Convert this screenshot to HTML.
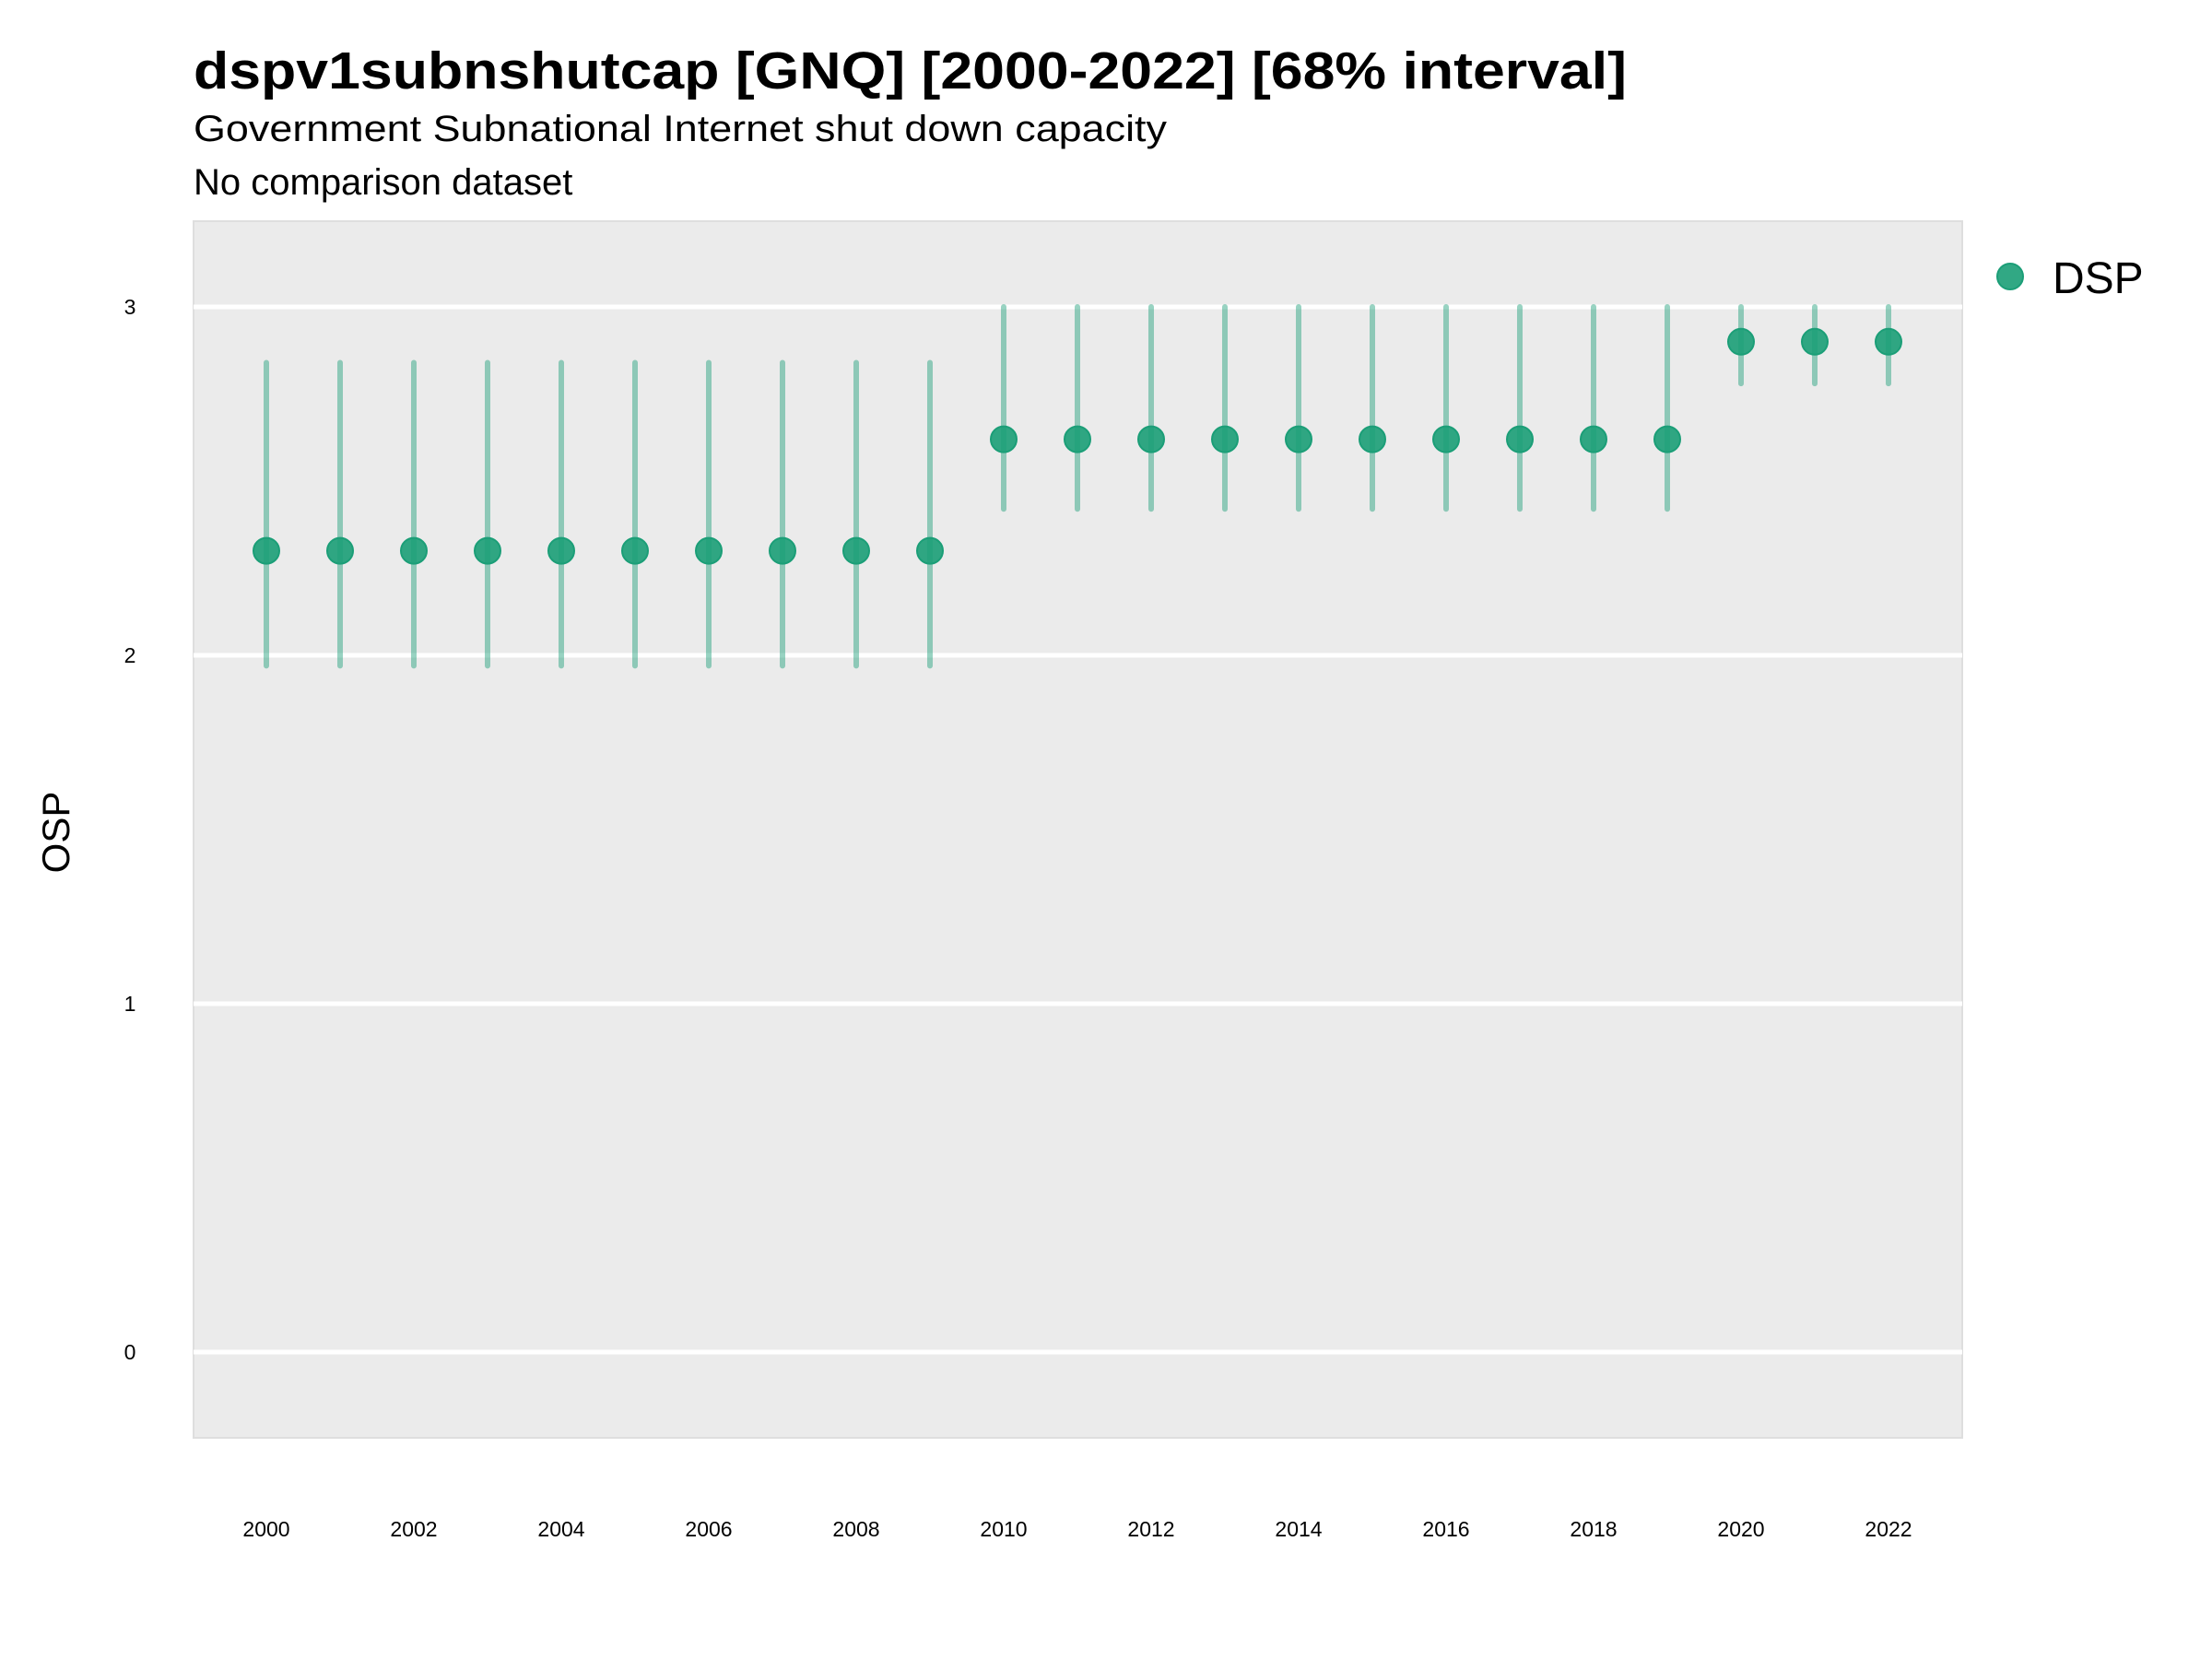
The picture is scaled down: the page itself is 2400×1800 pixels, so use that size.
<!DOCTYPE html>
<html><head><meta charset="utf-8"><style>
body{margin:0;background:#fff;}
svg{display:block;font-family:"Liberation Sans",Arial,sans-serif;}
</style></head><body>
<svg id="chart" width="2400" height="1800" viewBox="0 0 2400 1800">
<text x="210" y="96" font-size="57" font-weight="bold" textLength="1555" lengthAdjust="spacingAndGlyphs">dspv1subnshutcap [GNQ] [2000-2022] [68% interval]</text>
<text x="210" y="153" font-size="40" textLength="1056" lengthAdjust="spacingAndGlyphs">Government Subnational Internet shut down capacity</text>
<text x="210" y="211" font-size="40">No comparison dataset</text>
<rect x="210" y="240" width="1919" height="1320" fill="#ebebeb" stroke="#dedede" stroke-width="2"/>
<g id="grid"></g>
<g id="marks"></g>
<g id="axes"></g>
<text transform="translate(75,903) rotate(-90)" text-anchor="middle" font-size="42">OSP</text>
<circle cx="2181" cy="300" r="14" fill="#1b9e77" fill-opacity="0.9" stroke="#1b9e77" stroke-width="2"/>
<text x="2227" y="318" font-size="48">DSP</text>
</svg>
<script>
const years=[2000,2001,2002,2003,2004,2005,2006,2007,2008,2009,2010,2011,2012,2013,2014,2015,2016,2017,2018,2019,2020,2021,2022];
const values=[2.30,2.30,2.30,2.30,2.30,2.30,2.30,2.30,2.30,2.30,2.62,2.62,2.62,2.62,2.62,2.62,2.62,2.62,2.62,2.62,2.90,2.90,2.90];
const upper=[2.84,2.84,2.84,2.84,2.84,2.84,2.84,2.84,2.84,2.84,3.0,3.0,3.0,3.0,3.0,3.0,3.0,3.0,3.0,3.0,3.0,3.0,3.0];
const lower=[1.97,1.97,1.97,1.97,1.97,1.97,1.97,1.97,1.97,1.97,2.42,2.42,2.42,2.42,2.42,2.42,2.42,2.42,2.42,2.42,2.78,2.78,2.78];
const yTicks=[0,1,2,3];
const xTicks=[2000,2002,2004,2006,2008,2010,2012,2014,2016,2018,2020,2022];
const NS="http://www.w3.org/2000/svg";
function xs(v){return 289+(v-2000)*(2049-289)/22;}
function ys(v){return 1467-v*378;}
function mk(tag,attrs,parent){const e=document.createElementNS(NS,tag);for(const k in attrs)e.setAttribute(k,attrs[k]);parent.appendChild(e);return e;}
const grid=document.getElementById('grid'),marks=document.getElementById('marks'),axes=document.getElementById('axes');
yTicks.forEach(t=>{
  const l=mk('line',{x1:210,x2:2129,y1:ys(t),y2:ys(t),stroke:'#fff','stroke-width':5},grid);
  
  
  const tx=mk('text',{x:141,y:ys(t)+8,'text-anchor':'middle','font-size':23},axes);
  tx.textContent=t;
  
  
});
xTicks.forEach(t=>{
  const tx=mk('text',{x:xs(t),y:1667,'text-anchor':'middle','font-size':23},axes);
  tx.textContent=t;
  
  
});
years.forEach((yr,i)=>{
  const l=mk('line',{x1:xs(yr),x2:xs(yr),y1:ys(upper[i]),y2:ys(lower[i]),stroke:'#1b9e77','stroke-opacity':0.45,'stroke-width':6,'stroke-linecap':'round'},marks);
  
  
});
years.forEach((yr,i)=>{
  const c=mk('circle',{cx:xs(yr),cy:ys(values[i]),r:14,fill:'#1b9e77','fill-opacity':0.9,stroke:'#1b9e77','stroke-width':2},marks);
  
  
});
</script>
</body></html>
